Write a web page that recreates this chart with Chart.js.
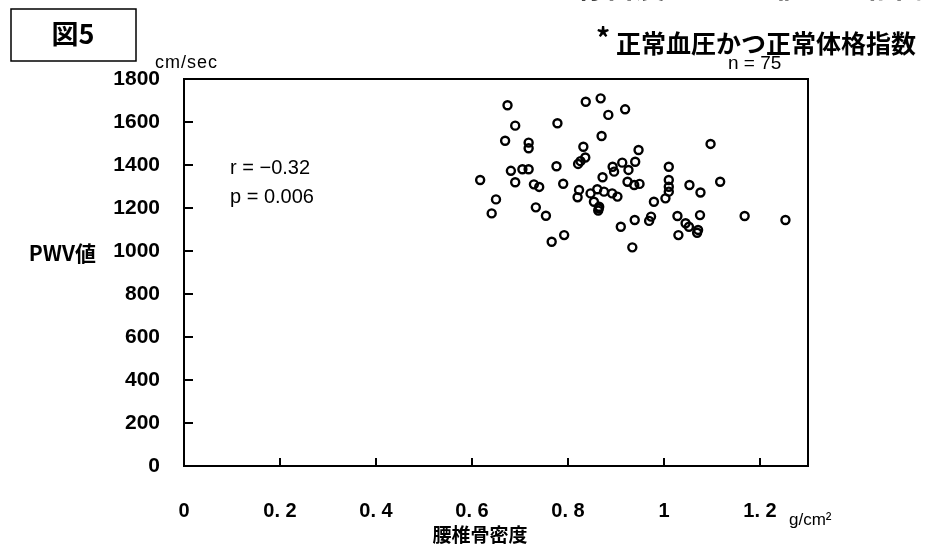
<!DOCTYPE html>
<html lang="ja">
<head>
    <meta charset="UTF-8">
    <title>図5 腰椎骨密度とPWV値</title>
    <script src="https://cdn.jsdelivr.net/npm/chart.js"></script>
    <style>
        html, body { margin: 0; padding: 0; background: #fff; }
        #wrap { width: 929px; height: 544px; position: relative; }
    </style>
</head>
<body>
    <div id="wrap"><canvas id="pwvChart"></canvas></div>

    <script>
        // 腰椎骨密度 (g/cm2) と PWV値 (cm/sec), n = 75
        const bmd = [
            0.617, 0.641, 0.650, 0.669, 0.674, 0.681, 0.690, 0.690, 0.705, 0.718,
            0.718, 0.718, 0.729, 0.740, 0.733, 0.754, 0.766, 0.776, 0.778, 0.790,
            0.792, 0.832, 0.836, 0.821, 0.837, 0.868, 0.884, 0.870, 0.919, 0.947,
            0.893, 0.896, 0.913, 0.926, 0.940, 0.872, 0.924, 0.938, 0.823, 0.820,
            0.847, 0.861, 0.875, 0.854, 0.865, 0.863, 0.892, 0.903, 0.979, 0.910,
            0.939, 0.934, 0.969, 0.973, 1.010, 1.010, 1.010, 1.010, 1.003, 1.053,
            1.076, 1.117, 1.097, 1.028, 1.045, 1.052, 1.075, 1.030, 1.069, 1.071,
            1.168, 1.253, 0.826, 0.864, 0.949
        ];
        const pwv = [
            1330, 1175, 1240, 1513, 1678, 1373, 1583, 1320, 1380, 1380,
            1504, 1478, 1310, 1298, 1203, 1164, 1043, 1394, 1594, 1313,
            1074, 1485, 1435, 1405, 1694, 1710, 1633, 1535, 1659, 1470,
            1392, 1369, 1411, 1377, 1415, 1343, 1322, 1307, 1284, 1250,
            1268, 1287, 1276, 1229, 1206, 1188, 1268, 1253, 1229, 1113,
            1144, 1017, 1140, 1160, 1392, 1330, 1299, 1276, 1245, 1307,
            1272, 1322, 1498, 1163, 1129, 1113, 1167, 1074, 1085, 1098,
            1163, 1144, 1418, 1198, 1312
        ];
        const xTickValues = [0, 0.2, 0.4, 0.6, 0.8, 1, 1.2];
        const xTickLabels = ['0', '0. 2', '0. 4', '0. 6', '0. 8', '1', '1. 2'];
        const yTickValues = [0, 200, 400, 600, 800, 1000, 1200, 1400, 1600, 1800];

        const points = bmd.map((v, i) => ({ x: v, y: pwv[i] }));

        const jp = '"Noto Sans CJK JP", sans-serif';
        const num = '"Liberation Sans", Arial, sans-serif';

        // frame, inward ticks and the loose texts of the figure
        const decorations = {
            id: 'decorations',
            afterDraw(chart) {
                const ctx = chart.ctx;
                const a = chart.chartArea;
                const xs = chart.scales.x, ys = chart.scales.y;
                ctx.save();
                ctx.strokeStyle = '#000';
                ctx.lineWidth = 2;
                ctx.strokeRect(a.left, a.top, a.right - a.left, a.bottom - a.top);

                ctx.beginPath();
                yTickValues.forEach(v => {
                    const y = ys.getPixelForValue(v);
                    ctx.moveTo(a.left, y);
                    ctx.lineTo(a.left + 9, y);
                });
                xTickValues.slice(1).forEach(v => {
                    const x = xs.getPixelForValue(v);
                    ctx.moveTo(x, a.bottom);
                    ctx.lineTo(x, a.bottom - 8);
                });
                ctx.stroke();

                // 図5 box
                ctx.lineWidth = 1.5;
                ctx.strokeRect(11, 9, 125, 52);
                ctx.fillStyle = '#000';
                ctx.textBaseline = 'middle';
                ctx.textAlign = 'center';
                ctx.font = 'bold 27px ' + jp;
                ctx.fillText('図5', 73, 34);

                // cut-off title line at the very top
                ctx.textBaseline = 'alphabetic';
                ctx.textAlign = 'right';
                ctx.font = 'bold 30px ' + jp;
                ctx.fillText('骨密度と  PWV値との相関', 925, -3);

                ctx.textAlign = 'left';
                ctx.textBaseline = 'middle';
                ctx.font = 'bold 28px ' + jp;
                ctx.fillText('*', 596, 38);
                ctx.font = 'bold 25px ' + jp;
                ctx.fillText('正常血圧かつ正常体格指数', 616, 43);
                ctx.font = '19px ' + num;
                ctx.fillText('n = 75', 728, 64);

                ctx.font = '18px ' + num;
                ctx.letterSpacing = '1px';
                ctx.fillText('cm/sec', 155, 63);
                ctx.letterSpacing = '0px';

                ctx.font = '20px ' + num;
                ctx.fillText('r = \u22120.32', 230, 168);
                ctx.fillText('p = 0.006', 230, 197);

                ctx.textAlign = 'right';
                ctx.font = 'bold 21px ' + jp;
                ctx.fillText('PWV値', 96, 253);

                ctx.textAlign = 'left';
                ctx.font = '17px ' + num;
                ctx.fillText('g/cm\u00b2', 789, 520);

                ctx.textAlign = 'center';
                ctx.font = 'bold 19px ' + jp;
                ctx.fillText('腰椎骨密度', 480, 535);
                ctx.restore();
            }
        };

        new Chart(document.getElementById('pwvChart'), {
            type: 'scatter',
            data: {
                datasets: [{
                    label: 'PWV値',
                    data: points,
                    pointStyle: 'circle',
                    pointRadius: 4,
                    pointBorderWidth: 2.4,
                    borderColor: '#000',
                    backgroundColor: 'rgba(255,255,255,0)'
                }]
            },
            options: {
                responsive: true,
                maintainAspectRatio: false,
                animation: false,
                events: [],
                layout: { padding: { left: 0, right: 121, top: 79, bottom: 0 } },
                plugins: {
                    legend: { display: false },
                    tooltip: { enabled: false }
                },
                scales: {
                    x: {
                        type: 'linear',
                        min: 0,
                        max: 1.3,
                        border: { display: false },
                        grid: { display: false, drawTicks: false },
                        afterBuildTicks: s => { s.ticks = xTickValues.map(v => ({ value: v })); },
                        afterFit: s => { s.height = 78; },
                        ticks: {
                            padding: 33,
                            color: '#000',
                            font: { family: num, size: 20, weight: 'bold' },
                            callback: v => xTickLabels[xTickValues.indexOf(v)]
                        }
                    },
                    y: {
                        min: 0,
                        max: 1800,
                        border: { display: false },
                        grid: { display: false, drawTicks: false },
                        afterBuildTicks: s => { s.ticks = yTickValues.map(v => ({ value: v })); },
                        afterFit: s => { s.width = 184; },
                        ticks: {
                            padding: 24,
                            color: '#000',
                            font: { family: num, size: 21, weight: 'bold' },
                            callback: v => String(v)
                        }
                    }
                }
            },
            plugins: [decorations]
        });
    </script>
</body>
</html>
